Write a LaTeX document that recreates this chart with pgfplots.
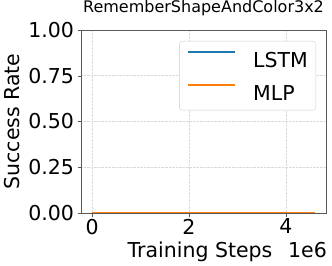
\documentclass[border=0pt]{standalone}
\usepackage{pgfplots}
\pgfplotsset{compat=1.18}
\usepackage{fontspec}
\setmainfont{DejaVu Sans}
\definecolor{C0}{RGB}{31,119,180}
\definecolor{C1}{RGB}{255,127,14}
\begin{document}
\begin{tikzpicture}
\path[use as bounding box] (0,0) rectangle (332bp,266bp);
\begin{axis}[
  name=ax,
  at={(81bp,53bp)}, anchor=south west,
  scale only axis, width=245bp, height=183bp,
  xmin=-0.23e6, xmax=4.83e6, ymin=0, ymax=1,
  xtick={0,2e6,4e6}, xticklabels={0,2,4},
  ytick={0,0.25,0.5,0.75,1},
  yticklabel style={/pgf/number format/fixed,/pgf/number format/fixed zerofill,/pgf/number format/precision=2},
  /pgf/number format/assume math mode=true,
  scaled x ticks=false,
  tick label style={font=\fontsize{20.5bp}{22bp}\selectfont, text=black},
  xticklabel style={yshift=1bp},
  tick align=outside, tick pos=left, major tick length=3.5bp,
  axis line style={draw=black!65}, tick style={draw=black!65},
  grid=major, grid style={densely dotted, draw=black!15, line width=0.5pt},
  title={RememberShapeAndColor3x2},
  title style={font=\fontsize{16bp}{18bp}\selectfont, at={(0.5,1)}, anchor=base, yshift=12bp},
  ylabel={Success Rate},
  ylabel style={font=\fontsize{20.5bp}{22bp}\selectfont},
  every axis y label/.append style={at={(-69bp,91.5bp)}, anchor=center},
  xlabel={Training Steps},
  xlabel style={font=\fontsize{20.5bp}{22bp}\selectfont, at={(119bp,-44bp)}, anchor=base},
  legend style={at={(1,1)}, anchor=north east, xshift=-10bp, yshift=-11bp,
    draw=black!20, rounded corners=3bp, font=\fontsize{20.5bp}{22bp}\selectfont,
    row sep=17bp, inner xsep=8bp, inner ysep=10bp,
    nodes={inner sep=0bp, text height=15bp, text depth=0bp}},
  legend cell align=left,
  legend image code/.code={\draw[#1, line width=2pt] (0bp,7.5bp) -- (47bp,7.5bp); \path (64bp,7.5bp);},
]
\addplot[C0, line width=1.5pt] coordinates {(0,0) (1e6,0) (2e6,0) (3e6,0) (4e6,0) (4.6e6,0)};
\addlegendentry{LSTM}
\addplot[C1, line width=1.5pt] coordinates {(0,0) (1e6,0) (2e6,0) (3e6,0) (4e6,0) (4.6e6,0)};
\addlegendentry{MLP}
\end{axis}
\node[font=\fontsize{20.5bp}{22bp}\selectfont, anchor=base east, inner sep=0pt] at ([xshift=1bp, yshift=-44bp]ax.south east) {1e6};
\end{tikzpicture}
\end{document}
